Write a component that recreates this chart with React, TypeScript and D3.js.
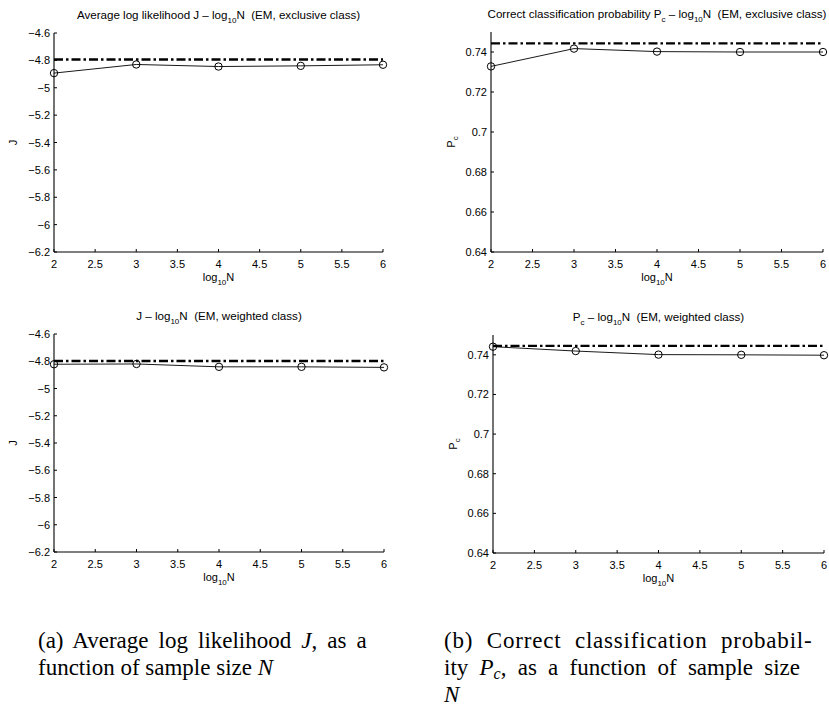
import React from "react";
import * as d3 from "d3";

const logN = [2, 3, 4, 5, 6];
const jExclusive = [-4.893, -4.83, -4.845, -4.84, -4.832];
const jExclusiveRef = -4.794;
const jWeighted = [-4.822, -4.82, -4.841, -4.841, -4.845];
const jWeightedRef = -4.798;
const pcExclusive = [0.7328, 0.7417, 0.7402, 0.7400, 0.7400];
const pcExclusiveRef = 0.7443;
const pcWeighted = [0.7441, 0.7419, 0.7401, 0.7400, 0.7398];
const pcWeightedRef = 0.7445;

const xTicks = [2, 2.5, 3, 3.5, 4, 4.5, 5, 5.5, 6];
const jTicks = [-4.6, -4.8, -5, -5.2, -5.4, -5.6, -5.8, -6, -6.2];
const pcTicks = [0.64, 0.66, 0.68, 0.7, 0.72, 0.74];

const SANS = "'Liberation Sans', Arial, Helvetica, sans-serif";
const SERIF = "'Liberation Serif', 'Times New Roman', serif";
const FS = 11;
const TFS = 11.6;

type PanelProps = {
  left: number; right: number; top: number; bottom: number;
  yDomain: [number, number];
  yTicks: number[];
  values: number[];
  refValue: number;
  title: React.ReactNode;
  yLabel: React.ReactNode;
  yLabelX: number;
  fmt: (v: number) => string;
};

const LogLabel = () => (
  <>
    log<tspan dy={3.5} fontSize={8}>10</tspan><tspan dy={-3.5}>N</tspan>
  </>
);

function Panel(p: PanelProps) {
  const x = d3.scaleLinear().domain([2, 6]).range([p.left, p.right]);
  const y = d3.scaleLinear().domain(p.yDomain).range([p.bottom, p.top]);
  const line = d3.line<number>().x((_, i) => x(logN[i])).y((d) => y(d));
  const tl = 3;
  return (
    <g>
      <text x={(p.left + p.right) / 2} y={p.top - 14} textAnchor="middle" fontFamily={SANS} fontSize={TFS} style={{ whiteSpace: "pre" }}>
        {p.title}
      </text>
      <line x1={p.left} x2={p.left} y1={p.top} y2={p.bottom} stroke="#000" strokeWidth={1.1} />
      <line x1={p.left} x2={p.right} y1={p.bottom} y2={p.bottom} stroke="#000" strokeWidth={1.1} />
      {xTicks.map((t) => (
        <g key={"x" + t}>
          <line x1={x(t)} x2={x(t)} y1={p.bottom} y2={p.bottom - tl} stroke="#000" strokeWidth={1} />
          <text x={x(t)} y={p.bottom + 16} textAnchor="middle" fontFamily={SANS} fontSize={FS}>{String(t)}</text>
        </g>
      ))}
      {p.yTicks.map((t) => (
        <g key={"y" + t}>
          <line x1={p.left} x2={p.left + tl} y1={y(t)} y2={y(t)} stroke="#000" strokeWidth={1} />
          <text x={p.left - 4} y={y(t) + 4} textAnchor="end" fontFamily={SANS} fontSize={FS}>{p.fmt(t)}</text>
        </g>
      ))}
      <text x={(p.left + p.right) / 2} y={p.bottom + 29} textAnchor="middle" fontFamily={SANS} fontSize={FS}>
        <LogLabel />
      </text>
      <text transform={`translate(${p.yLabelX},${(p.top + p.bottom) / 2}) rotate(-90)`} textAnchor="middle" fontFamily={SANS} fontSize={FS}>
        {p.yLabel}
      </text>
      <line x1={x(2)} x2={x(6)} y1={y(p.refValue)} y2={y(p.refValue)} stroke="#000" strokeWidth={2.4} strokeDasharray="9,3,2.5,3" />
      <path d={line(p.values) || ""} fill="none" stroke="#000" strokeWidth={0.9} />
      {p.values.map((v, i) => (
        <circle key={i} cx={x(logN[i])} cy={y(v)} r={3.7} fill="none" stroke="#000" strokeWidth={1} />
      ))}
    </g>
  );
}

const fmtJ = (v: number) => String(Math.round(v * 10) / 10).replace("-", "\u2212");
const fmtP = (v: number) => String(Math.round(v * 100) / 100);

export default function App() {
  return (
    <svg width={829} height={711} style={{ position: "absolute", left: 0, top: 0, background: "#fff" }}>
      <rect width={829} height={711} fill="#fff" />
      <Panel left={54} right={383} top={33} bottom={252} yDomain={[-6.2, -4.6]} yTicks={jTicks}
        values={jExclusive} refValue={jExclusiveRef} fmt={fmtJ} yLabelX={17}
        title={<>Average log likelihood J – <LogLabel />{"  (EM, exclusive class)"}</>} yLabel="J" />
      <Panel left={491} right={823} top={32} bottom={252} yDomain={[0.64, 0.75]} yTicks={pcTicks}
        values={pcExclusive} refValue={pcExclusiveRef} fmt={fmtP} yLabelX={455}
        title={<>Correct classification probability P<tspan dy={3.5} fontSize={8}>c</tspan><tspan dy={-3.5}>{" – "}</tspan><LogLabel />{"  (EM, exclusive class)"}</>}
        yLabel={<>P<tspan dy={3} fontSize={8}>c</tspan></>} />
      <Panel left={54} right={384} top={334} bottom={552} yDomain={[-6.2, -4.6]} yTicks={jTicks}
        values={jWeighted} refValue={jWeightedRef} fmt={fmtJ} yLabelX={17}
        title={<>J – <LogLabel />{"  (EM, weighted class)"}</>} yLabel="J" />
      <Panel left={493} right={824} top={335} bottom={553} yDomain={[0.64, 0.75]} yTicks={pcTicks}
        values={pcWeighted} refValue={pcWeightedRef} fmt={fmtP} yLabelX={457}
        title={<>P<tspan dy={3.5} fontSize={8}>c</tspan><tspan dy={-3.5}>{" – "}</tspan><LogLabel />{"  (EM, weighted class)"}</>}
        yLabel={<>P<tspan dy={3} fontSize={8}>c</tspan></>} />
      <g fontFamily={SERIF} fontSize={23}>
        <text x={38} y={648} wordSpacing={4.3}>(a) Average log likelihood <tspan fontStyle="italic">J</tspan>, as a</text>
        <text x={38} y={675}>function of sample size <tspan fontStyle="italic">N</tspan></text>
        <text x={444} y={648} wordSpacing={7} letterSpacing={0.8}>(b) Correct classification probabil-</text>
        <text x={444} y={675} wordSpacing={5.5}>ity <tspan fontStyle="italic">P</tspan><tspan fontStyle="italic" dy={4} fontSize={16}>c</tspan><tspan dy={-4}>, as a function of sample size</tspan></text>
        <text x={444} y={702} fontStyle="italic">N</text>
      </g>
    </svg>
  );
}
